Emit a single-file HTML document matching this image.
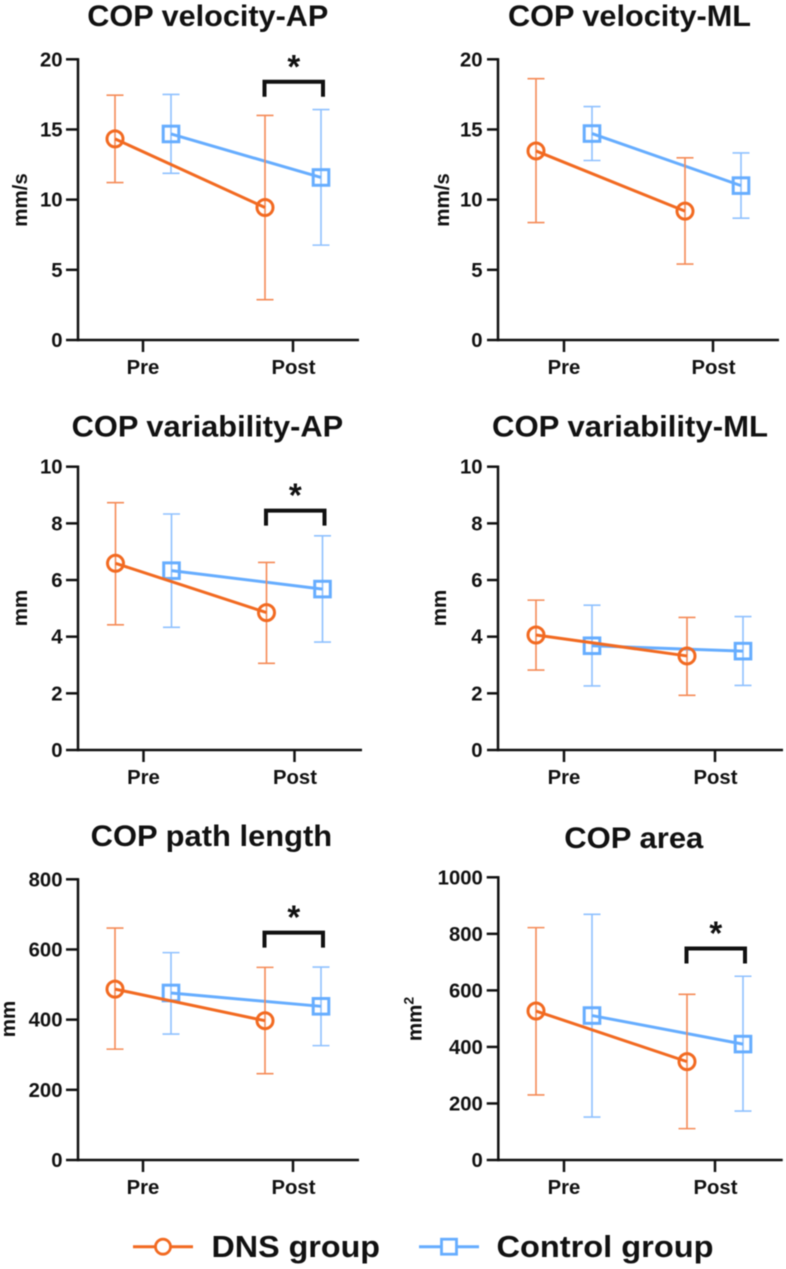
<!DOCTYPE html>
<html lang="en">
<head>
<meta charset="utf-8">
<title>COP outcomes: DNS group vs Control group</title>
<style>
html,body{margin:0;padding:0;background:#fff;width:786px;height:1269px;overflow:hidden}
svg{display:block;filter:blur(0.5px)}
text{font-family:"Liberation Sans",Arial,sans-serif;font-weight:700;fill:#111}
</style>
</head>
<body>
<svg id="figure" xmlns="http://www.w3.org/2000/svg" width="786" height="1269" viewBox="0 0 786 1269">
  <rect x="0" y="0" width="786" height="1269" fill="#ffffff"></rect>
  <g>
    <g>
      <line x1="133" y1="1246.7" x2="193" y2="1246.7" stroke="#F26A21" stroke-width="3"></line>
      <circle cx="163" cy="1246.7" r="7.5" fill="#fff" stroke="#F26A21" stroke-width="2.8"></circle>
      <text x="211.5" y="1257" font-size="31" textLength="168.5" lengthAdjust="spacingAndGlyphs">DNS group</text>
    </g>
    <g>
      <line x1="419" y1="1246.7" x2="479" y2="1246.7" stroke="#66ADFF" stroke-width="3"></line>
      <rect x="441.5" y="1239.2" width="15" height="15" fill="#fff" stroke="#66ADFF" stroke-width="2.8"></rect>
      <text x="496.5" y="1257" font-size="31" textLength="217" lengthAdjust="spacingAndGlyphs">Control group</text>
    </g>
  </g>
</svg>
<script>
const categories = ['Pre', 'Post'];
const panelNames = ['velocity-ap', 'velocity-ml', 'variability-ap', 'variability-ml', 'path-length', 'area'];
const panelTitles = ['COP velocity-AP', 'COP velocity-ML', 'COP variability-AP', 'COP variability-ML', 'COP path length', 'COP area'];
const yUnits = ['mm/s', 'mm/s', 'mm', 'mm', 'mm', 'mm'];
const yTickLabels = [
  [0, 5, 10, 15, 20],
  [0, 5, 10, 15, 20],
  [0, 2, 4, 6, 8, 10],
  [0, 2, 4, 6, 8, 10],
  [0, 200, 400, 600, 800],
  [0, 200, 400, 600, 800, 1000]
];
const dnsMean = [[14.33, 9.44], [13.47, 9.18], [6.59, 4.85], [4.06, 3.32], [487, 397], [527, 348]];
const dnsLow = [[11.22, 2.87], [8.37, 5.41], [4.42, 3.06], [2.82, 1.93], [316, 246], [230, 111]];
const dnsHigh = [[17.44, 16.0], [18.62, 12.98], [8.73, 6.62], [5.29, 4.68], [661, 549], [822, 586]];
const controlMean = [[14.68, 11.58], [14.71, 11.0], [6.33, 5.68], [3.68, 3.49], [476, 438], [511, 410]];
const controlLow = [[11.88, 6.76], [12.79, 8.68], [4.33, 3.81], [2.26, 2.28], [359, 326], [152, 173]];
const controlHigh = [[17.5, 16.42], [16.63, 13.33], [8.33, 7.56], [5.11, 4.71], [591, 550], [869, 650]];
const significant = [true, false, true, false, true, true];
const bracketValues = [18.4, null, 8.45, null, 648, 748];

/* Layout of each panel frame, kept apart from the data. */
const frames = [
  {axisX: 78, top: 59.3, bottom: 340, xStart: 66, xEnd: 359, catX: [143, 293], titleX: 87.3, titleW: 241, titleY: 26, unitX: 27, unitY: 200, labelY: 374},
  {axisX: 498, top: 59.3, bottom: 340, xStart: 487, xEnd: 779, catX: [564, 713], titleX: 508, titleW: 243, titleY: 26, unitX: 449, unitY: 200, labelY: 374},
  {axisX: 78, top: 466.7, bottom: 750, xStart: 66, xEnd: 362, catX: [143.5, 294.5], titleX: 71.7, titleW: 271.5, titleY: 436.7, unitX: 27, unitY: 608, labelY: 784},
  {axisX: 498, top: 466.7, bottom: 750, xStart: 487, xEnd: 783, catX: [564, 715], titleX: 492, titleW: 276, titleY: 436.7, unitX: 446, unitY: 608, labelY: 784},
  {axisX: 78, top: 879.3, bottom: 1160, xStart: 66, xEnd: 359, catX: [143, 293], titleX: 90.7, titleW: 241.5, titleY: 846, unitX: 15, unitY: 1019, labelY: 1194},
  {axisX: 498.3, top: 877.3, bottom: 1160, xStart: 486.7, xEnd: 782.7, catX: [564, 715], titleX: 564.3, titleW: 139, titleY: 848, unitX: 421.7, unitY: 1019, labelY: 1194}
];
const SVG_NS = 'http://www.w3.org/2000/svg';
const figure = document.getElementById('figure');

function make(parent, tag, attrs, content) {
  const el = document.createElementNS(SVG_NS, tag);
  for (const key in attrs) el.setAttribute(key, attrs[key]);
  if (content !== undefined) el.textContent = content;
  parent.appendChild(el);
  return el;
}

function drawSeries(group, prefix, color, barColor, mean, low, high, xOf, yOf, isCircle) {
  const capHalf = 8.5;
  mean.forEach(function (value, i) {
    const x = xOf(i);
    const cat = categories[i].toLowerCase();
    const bar = make(group, 'path', {
      d: 'M' + (x - capHalf) + ' ' + yOf(high[i]) + 'H' + (x + capHalf) +
         'M' + x + ' ' + yOf(high[i]) + 'V' + yOf(low[i]) +
         'M' + (x - capHalf) + ' ' + yOf(low[i]) + 'H' + (x + capHalf),
      fill: 'none', stroke: barColor, 'stroke-width': 1.6
    });
    
    
  });
  const line = make(group, 'line', {
    x1: xOf(0), y1: yOf(mean[0]), x2: xOf(1), y2: yOf(mean[1]),
    stroke: color, 'stroke-width': 3
  });
  
  
  mean.forEach(function (value, i) {
    const x = xOf(i);
    const y = yOf(value);
    const cat = categories[i].toLowerCase();
    let marker;
    if (isCircle) {
      marker = make(group, 'circle', {cx: x, cy: y, r: 8, fill: 'none', stroke: color, 'stroke-width': 3});
    } else {
      marker = make(group, 'rect', {x: x - 7.8, y: y - 7.8, width: 15.6, height: 15.6, fill: 'none', stroke: color, 'stroke-width': 3});
    }
    
    
  });
}

panelTitles.forEach(function (title, p) {
  const f = frames[p];
  const ticks = yTickLabels[p];
  const yMax = ticks[ticks.length - 1];
  const yOf = function (v) { return f.bottom - (v / yMax) * (f.bottom - f.top); };
  const offset = 28;

  const panel = make(figure, 'g', {});
  
  

  const titleEl = make(panel, 'text', {x: f.titleX, y: f.titleY, 'font-size': 29.5, textLength: f.titleW, lengthAdjust: 'spacingAndGlyphs'}, title);
  
  

  const unit = make(panel, 'text', {
    x: 0, y: 0, 'font-size': 20.5, 'text-anchor': 'middle',
    transform: 'translate(' + f.unitX + ' ' + f.unitY + ') rotate(-90)'
  }, yUnits[p]);
  if (p === 5) {
    const sup = make(unit, 'tspan', {dy: -8, 'font-size': 14});
    sup.textContent = '2';
    
    
  }
  
  

  const yAxis = make(panel, 'line', {x1: f.axisX, y1: f.top - 1.2, x2: f.axisX, y2: f.bottom + 1.2, stroke: '#111', 'stroke-width': 2.5});
  
  

  const xAxis = make(panel, 'line', {x1: f.xStart, y1: f.bottom, x2: f.xEnd, y2: f.bottom, stroke: '#111', 'stroke-width': 2.5});
  
  

  ticks.forEach(function (t) {
    const y = yOf(t);
    if (t !== 0) {
      const mark = make(panel, 'line', {x1: f.xStart, y1: y, x2: f.axisX, y2: y, stroke: '#111', 'stroke-width': 2.5});
      
      
    }
    const label = make(panel, 'text', {x: f.axisX - 15.5, y: y + 7, 'font-size': 20.3, 'text-anchor': 'end'}, String(t));
    
    
  });

  categories.forEach(function (cat, i) {
    const mark = make(panel, 'line', {x1: f.catX[i], y1: f.bottom, x2: f.catX[i], y2: f.bottom + 12, stroke: '#111', 'stroke-width': 2.5});
    
    
    const label = make(panel, 'text', {x: f.catX[i] + (i === 1 ? 0.5 : 0), y: f.labelY, 'font-size': 20.3, 'text-anchor': 'middle'}, cat);
    
    
  });

  const controlGroup = make(panel, 'g', {});
  
  
  drawSeries(controlGroup, 'control', '#66ADFF', '#8FC1FF', controlMean[p], controlLow[p], controlHigh[p],
    function (i) { return f.catX[i] + offset; }, yOf, false);

  const dnsGroup = make(panel, 'g', {});
  
  
  drawSeries(dnsGroup, 'dns', '#F26A21', '#F58B57', dnsMean[p], dnsLow[p], dnsHigh[p],
    function (i) { return f.catX[i] - offset; }, yOf, true);

  if (significant[p]) {
    const by = yOf(bracketValues[p]);
    const x1 = f.catX[1] - offset - 0.5;
    const x2 = f.catX[1] + offset + 2;
    const bracket = make(panel, 'path', {
      d: 'M' + x1 + ' ' + (by + 15) + 'V' + by + 'H' + x2 + 'V' + (by + 15),
      fill: 'none', stroke: '#111', 'stroke-width': 4
    });
    
    
    const star = make(panel, 'text', {x: (x1 + x2) / 2, y: by - 4, 'font-size': 33, 'text-anchor': 'middle'}, '*');
    
    
  }
});
</script>
</body>
</html>
